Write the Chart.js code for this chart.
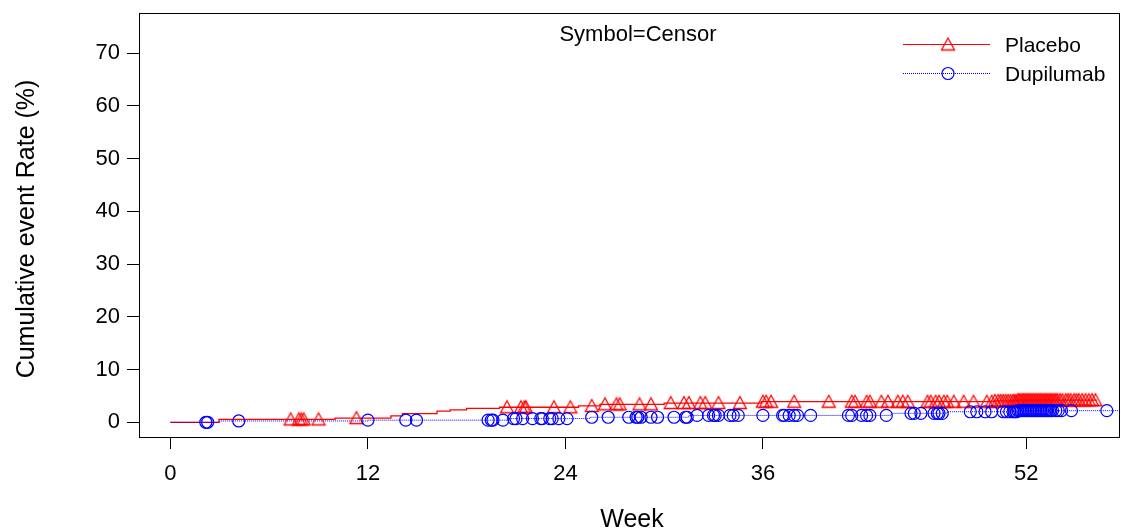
<!DOCTYPE html>
<html><head><meta charset="utf-8">
<script src="https://cdn.jsdelivr.net/npm/chart.js@4.4.1/dist/chart.umd.min.js"></script>
<style>html,body{margin:0;padding:0;background:#fff;overflow:hidden;}#wrap{width:1121px;height:530px;}canvas{display:block;}</style>
</head><body><div id="wrap"><canvas id="c" width="1121" height="530"></canvas></div>
<script>
// ---------- data ----------
const xTickValues = [0, 12, 24, 36, 52];
const yTickValues = [0, 10, 20, 30, 40, 50, 60, 70];
const seriesNames = ['Placebo', 'Dupilumab'];
const annotationText = 'Symbol=Censor';
const xTitle = 'Week';
const yTitle = 'Cumulative event Rate (%)';

const placeboStepWeeks = [0, 2.95, 10.0, 13.4, 14.1, 16.2, 17.0, 18.0, 20.0, 24.8, 26.1, 30.0, 35.9, 50.0, 51.5, 56.3];
const placeboStepRates = [0, 0.55, 0.8, 1.2, 1.65, 2.1, 2.35, 2.65, 2.85, 3.1, 3.4, 3.65, 3.9, 4.05, 4.2, 4.2];

const dupilumabStepWeeks = [0, 3.0, 12.0, 20.6, 25.5, 31.5, 43.8, 47.2, 51.5, 57.7];
const dupilumabStepRates = [0, 0.25, 0.4, 0.7, 0.95, 1.3, 1.7, 2.0, 2.2, 2.2];

const placeboCensorWeeks = [7.3, 7.8, 7.95, 8.1, 9.0, 11.3, 20.45, 21.3, 21.5, 21.6, 23.3, 24.3, 25.6, 26.4, 27.1, 27.3,
  28.5, 29.2, 30.4, 31.2, 31.5, 32.2, 32.5, 33.3, 34.6, 36.0, 36.2, 36.5, 37.9, 40.0, 41.4, 41.6, 42.3, 42.5, 43.2,
  43.6, 44.2, 44.5, 44.8, 46.0, 46.2, 46.5, 46.7, 47.0, 47.2, 47.6, 48.2, 48.8, 49.6, 49.9, 50.1, 50.3, 50.45, 50.6,
  50.75, 50.9, 51.05, 51.2, 51.3, 51.4, 51.5, 51.6, 51.7, 51.8, 51.9, 52.0, 52.1, 52.2, 52.3, 52.4, 52.5, 52.6, 52.7,
  52.8, 52.9, 53.0, 53.1, 53.2, 53.3, 53.4, 53.5, 53.6, 53.7, 53.8, 53.9, 54.05, 54.2, 54.4, 54.55, 54.7, 54.9,
  55.05, 55.2, 55.4, 55.6, 55.8, 56.0, 56.2];

const dupilumabCensorWeeks = [2.15, 2.26, 4.15, 12.0, 14.3, 14.95, 19.3, 19.5, 19.6, 20.2, 20.85, 21.0, 21.4, 22.0,
  22.5, 22.6, 23.05, 23.2, 23.6, 24.1, 25.6, 26.6, 27.85, 28.3, 28.4, 28.6, 29.2, 29.6, 30.6, 31.3, 31.4, 32.0, 32.7,
  33.0, 33.1, 33.3, 34.0, 34.2, 34.5, 36.0, 37.2, 37.3, 37.6, 37.9, 38.1, 38.9, 41.2, 41.4, 42.0, 42.3, 42.5, 43.5,
  45.0, 45.2, 45.6, 46.4, 46.6, 46.7, 46.9, 48.6, 49.0, 49.5, 49.9, 50.6, 50.8, 51.0, 51.2, 51.3, 51.4, 51.5, 51.6,
  51.7, 51.8, 51.9, 52.0, 52.1, 52.2, 52.3, 52.4, 52.5, 52.6, 52.7, 52.8, 52.9, 53.0, 53.1, 53.2, 53.3, 53.4, 53.5,
  53.6, 53.8, 53.95, 54.15, 54.75, 56.9];

// ---------- helpers ----------
function stepPoints(ws, rs) { return ws.map((w, i) => ({x: w, y: rs[i]})); }
function valueAt(ws, rs, t) { let v = rs[0]; for (let i = 0; i < ws.length; i++) { if (ws[i] <= t) v = rs[i]; } return v; }
function censorPoints(cw, ws, rs) { return cw.map(t => ({x: t, y: valueAt(ws, rs, t)})); }

const RED = '#ff0000', BLUE = '#0000ff';
const FONT = '"Liberation Sans", Arial, sans-serif';

function makeTriangle() {
  const c = document.createElement('canvas'); c.width = 16; c.height = 16;
  const g = c.getContext('2d');
  g.strokeStyle = RED; g.lineWidth = 1.3;
  g.beginPath(); g.moveTo(8, 1.5); g.lineTo(14.5, 13.5); g.lineTo(1.5, 13.5); g.closePath(); g.stroke();
  return c;
}
const triImg = makeTriangle();

function zeroPad(s) { s.paddingTop = 0; s.paddingBottom = 0; s.paddingLeft = 0; s.paddingRight = 0; }

const framePlugin = {
  id: 'framePlugin',
  afterDraw(chart) {
    const ctx = chart.ctx, a = chart.chartArea;
    ctx.save();
    ctx.strokeStyle = '#000'; ctx.lineWidth = 1;
    ctx.strokeRect(Math.round(a.left) + 0.5, Math.round(a.top) + 0.5, Math.round(a.right - a.left) - 1, Math.round(a.bottom - a.top));
    // annotation
    ctx.fillStyle = '#000';
    ctx.font = '22px ' + FONT; ctx.textAlign = 'center'; ctx.textBaseline = 'alphabetic';
    ctx.fillText(annotationText, 638, 41);
    // legend
    const ly = [44, 73];
    ctx.font = '21px ' + FONT; ctx.textAlign = 'left';
    ctx.beginPath(); ctx.strokeStyle = RED; ctx.lineWidth = 1.2; ctx.setLineDash([]);
    ctx.moveTo(903, ly[0] + 0.5); ctx.lineTo(990, ly[0] + 0.5); ctx.stroke();
    ctx.drawImage(triImg, 948 - 8, ly[0] - 7.5);
    ctx.beginPath(); ctx.strokeStyle = BLUE; ctx.lineWidth = 1; ctx.setLineDash([1, 1]);
    ctx.moveTo(903, ly[1] + 0.5); ctx.lineTo(990, ly[1] + 0.5); ctx.stroke();
    ctx.setLineDash([]); ctx.lineWidth = 1.2;
    ctx.beginPath(); ctx.arc(948, ly[1] + 0.5, 6, 0, Math.PI * 2); ctx.stroke();
    ctx.fillStyle = '#000';
    ctx.fillText(seriesNames[0], 1005, ly[0] + 8);
    ctx.fillText(seriesNames[1], 1005, ly[1] + 8);
    // axis titles
    ctx.font = '25px ' + FONT; ctx.textAlign = 'center';
    ctx.fillText(xTitle, 632, 527);
    ctx.translate(33.5, 229); ctx.rotate(-Math.PI / 2);
    ctx.fillText(yTitle, 0, 0);
    ctx.restore();
  }
};

new Chart(document.getElementById('c'), {
  data: {
    datasets: [
      {type: 'scatter', label: 'Dupilumab censor', data: censorPoints(dupilumabCensorWeeks, dupilumabStepWeeks, dupilumabStepRates),
        pointStyle: 'circle', pointRadius: 6, borderColor: BLUE, backgroundColor: 'rgba(0,0,0,0)', borderWidth: 1.2, order: 1},
      {type: 'scatter', label: 'Placebo censor', data: censorPoints(placeboCensorWeeks, placeboStepWeeks, placeboStepRates),
        pointStyle: triImg, pointRadius: 7, borderColor: RED, order: 2},
      {type: 'line', label: 'Dupilumab', data: stepPoints(dupilumabStepWeeks, dupilumabStepRates), stepped: true,
        borderColor: BLUE, borderWidth: 1, borderDash: [1, 1], pointRadius: 0, fill: false, order: 3},
      {type: 'line', label: 'Placebo', data: stepPoints(placeboStepWeeks, placeboStepRates), stepped: true,
        borderColor: RED, borderWidth: 1.3, pointRadius: 0, fill: false, order: 4}
    ]
  },
  options: {
    responsive: false, animation: false, devicePixelRatio: 1,
    layout: {autoPadding: false, padding: {top: 13, right: 1, left: 0, bottom: 0}},
    plugins: {legend: {display: false}, tooltip: {enabled: false}, title: {display: false}},
    scales: {
      x: {type: 'linear', position: 'bottom', min: -1.91, max: 57.7,
        afterBuildTicks: s => { s.ticks = xTickValues.map(v => ({value: v})); },
        afterFit: s => { s.height = 93; zeroPad(s); },
        ticks: {color: '#000', font: {family: FONT, size: 22}, padding: 12, maxRotation: 0, autoSkip: false},
        grid: {drawOnChartArea: false, drawTicks: true, tickLength: 12, color: '#000', lineWidth: 1},
        border: {display: false}},
      y: {type: 'linear', position: 'left', min: -2.79, max: 77.6,
        afterBuildTicks: s => { s.ticks = yTickValues.map(v => ({value: v})); },
        afterFit: s => { s.width = 139; zeroPad(s); },
        ticks: {color: '#000', font: {family: FONT, size: 22}, padding: 7, autoSkip: false},
        grid: {drawOnChartArea: false, drawTicks: true, tickLength: 12, color: '#000', lineWidth: 1},
        border: {display: false}}
    }
  },
  plugins: [framePlugin]
});
</script></body></html>
